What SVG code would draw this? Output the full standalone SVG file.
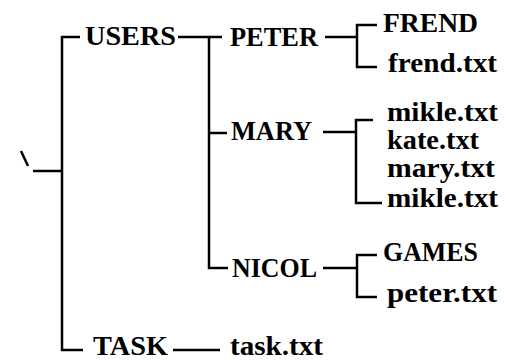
<svg xmlns="http://www.w3.org/2000/svg" width="506" height="361" viewBox="0 0 506 361">
<style>
.t text{font-weight:bold;font-size:28px;fill:#000}
.c line{stroke:#000;stroke-width:2.5;stroke-linecap:butt;fill:none}
</style>
<rect width="506" height="361" fill="#fff"/>
<g id="connectors" class="c">
<line x1="21" y1="151" x2="28" y2="166"/>
<line x1="33" y1="171" x2="62" y2="171"/>
<line x1="62" y1="36" x2="62" y2="351"/>
<line x1="61" y1="37" x2="80" y2="37"/>
<line x1="61" y1="350" x2="83" y2="350"/>
<line x1="178" y1="37" x2="222" y2="37"/>
<line x1="209" y1="36" x2="209" y2="269"/>
<line x1="208" y1="133" x2="227" y2="133"/>
<line x1="208" y1="268" x2="228" y2="268"/>
<line x1="325" y1="37" x2="357" y2="37"/>
<line x1="357" y1="24" x2="357" y2="68"/>
<line x1="356" y1="25" x2="377" y2="25"/>
<line x1="356" y1="67" x2="377" y2="67"/>
<line x1="323" y1="132" x2="356" y2="132"/>
<line x1="356" y1="119" x2="356" y2="204"/>
<line x1="355" y1="120" x2="373" y2="120"/>
<line x1="355" y1="203" x2="382" y2="203"/>
<line x1="323" y1="268" x2="357" y2="268"/>
<line x1="357" y1="254" x2="357" y2="298"/>
<line x1="356" y1="255" x2="377" y2="255"/>
<line x1="356" y1="297" x2="377" y2="297"/>
<line x1="173" y1="350" x2="220" y2="350"/>
</g>
<g class="t" font-family="Liberation Serif, DejaVu Serif, serif">
<g id="node-users"><text x="85" y="45" textLength="91" lengthAdjust="spacingAndGlyphs">USERS</text></g>
<g id="node-peter"><text x="230" y="46" textLength="88" lengthAdjust="spacingAndGlyphs">PETER</text></g>
<g id="node-frend"><text x="383" y="32" textLength="95" lengthAdjust="spacingAndGlyphs">FREND</text></g>
<g id="node-frend-txt"><text x="388" y="72" textLength="109" lengthAdjust="spacingAndGlyphs">frend.txt</text></g>
<g id="node-mary"><text x="231" y="140" textLength="81" lengthAdjust="spacingAndGlyphs">MARY</text></g>
<g id="node-mikle-txt-1"><text x="387" y="121" textLength="111" lengthAdjust="spacingAndGlyphs">mikle.txt</text></g>
<g id="node-kate-txt"><text x="387" y="149" textLength="92" lengthAdjust="spacingAndGlyphs">kate.txt</text></g>
<g id="node-mary-txt"><text x="387" y="177" textLength="108" lengthAdjust="spacingAndGlyphs">mary.txt</text></g>
<g id="node-mikle-txt-2"><text x="387" y="207" textLength="111" lengthAdjust="spacingAndGlyphs">mikle.txt</text></g>
<g id="node-nicol"><text x="232" y="277" textLength="85" lengthAdjust="spacingAndGlyphs">NICOL</text></g>
<g id="node-games"><text x="383" y="261" textLength="95" lengthAdjust="spacingAndGlyphs">GAMES</text></g>
<g id="node-peter-txt"><text x="387" y="302" textLength="110" lengthAdjust="spacingAndGlyphs">peter.txt</text></g>
<g id="node-task"><text x="93" y="355" textLength="75" lengthAdjust="spacingAndGlyphs">TASK</text></g>
<g id="node-task-txt"><text x="230" y="355" textLength="93" lengthAdjust="spacingAndGlyphs">task.txt</text></g>
</g>
</svg>
